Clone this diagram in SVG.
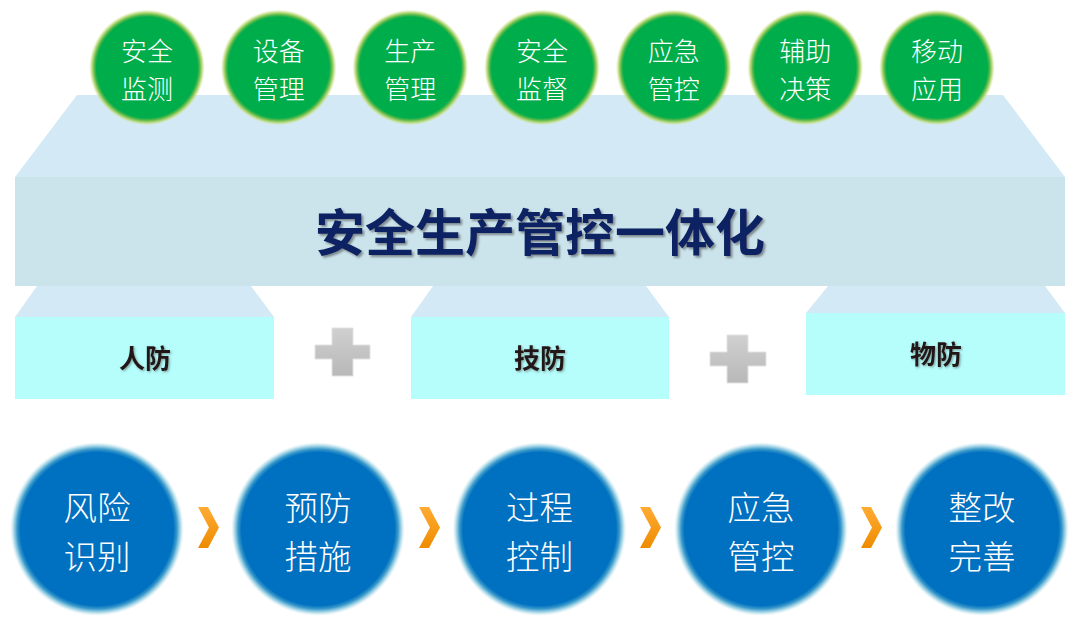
<svg xmlns="http://www.w3.org/2000/svg" width="1080" height="626" viewBox="0 0 1080 626">
<defs>
<radialGradient id="gGreen" cx="0.5" cy="0.5" r="0.5">
<stop offset="0" stop-color="#00ad4b"/>
<stop offset="0.87" stop-color="#00ad4b"/>
<stop offset="0.91" stop-color="#5ab94a"/>
<stop offset="0.95" stop-color="#b0d468" stop-opacity="0.85"/>
<stop offset="1" stop-color="#d8ecaa" stop-opacity="0"/>
</radialGradient>
<radialGradient id="gBlue" cx="0.5" cy="0.5" r="0.5">
<stop offset="0" stop-color="#0070c0"/>
<stop offset="0.88" stop-color="#0070c0"/>
<stop offset="0.92" stop-color="#3b9acb"/>
<stop offset="0.96" stop-color="#9fd3e5" stop-opacity="0.85"/>
<stop offset="1" stop-color="#d8eef5" stop-opacity="0"/>
</radialGradient>
<linearGradient id="gChev" x1="0" y1="0" x2="0" y2="1">
<stop offset="0" stop-color="#ffab33"/>
<stop offset="1" stop-color="#ee8c00"/>
</linearGradient>
<linearGradient id="gPlus" x1="0" y1="0" x2="0" y2="1">
<stop offset="0" stop-color="#d0d0d0"/>
<stop offset="1" stop-color="#b8b8b8"/>
</linearGradient>
<filter id="shadow" x="-10%" y="-20%" width="130%" height="150%">
<feDropShadow dx="2" dy="2" stdDeviation="1" flood-color="#404040" flood-opacity="0.55"/>
</filter>
<filter id="shadowS" x="-10%" y="-20%" width="130%" height="150%">
<feDropShadow dx="1.2" dy="1.2" stdDeviation="0.8" flood-color="#404040" flood-opacity="0.5"/>
</filter>
</defs>
<style>
.topface{fill:#d3eaf6}
.front{fill:#cbe4ec}
.box{fill:#b5fefc}
.title{font-family:"Noto Sans CJK SC","Noto Sans CJK JP",sans-serif;font-weight:bold;font-size:50px;fill:#0b2262;text-anchor:middle}
.lbl{font-family:"Noto Sans CJK SC","Noto Sans CJK JP",sans-serif;font-weight:bold;font-size:26px;fill:#231815;text-anchor:middle}
.gt{font-family:"Noto Sans CJK SC","Noto Sans CJK JP",sans-serif;font-weight:300;font-size:26px;fill:#ffffff;text-anchor:middle}
.bt{font-family:"Noto Sans CJK SC","Noto Sans CJK JP",sans-serif;font-weight:300;font-size:33.5px;fill:#ffffff;text-anchor:middle}
.plus{fill:url(#gPlus);stroke:#e2e2e2;stroke-width:1}
.chev{fill:url(#gChev)}
</style>
<rect width="1080" height="626" fill="#ffffff"/>

<g id="slab">
<polygon class="topface" points="77,95 1003,95 1065,177 15,177"/>
<rect class="front" x="15" y="177" width="1050" height="109"/>
<text class="title" x="540" y="251" filter="url(#shadow)">安全生产管控一体化</text>
</g>

<g id="renfang">
<polygon class="topface" points="37,286 251,286 274,317 15,317"/>
<rect class="box" x="15" y="317" width="259" height="82"/>
<text class="lbl" x="145" y="368" filter="url(#shadowS)">人防</text>
</g>
<g id="jifang">
<polygon class="topface" points="433,286 646,286 669,317 411,317"/>
<rect class="box" x="411" y="317" width="258" height="82"/>
<text class="lbl" x="540" y="368" filter="url(#shadowS)">技防</text>
</g>
<g id="wufang">
<polygon class="topface" points="828,286 1045,286 1065,313 806,313"/>
<rect class="box" x="806" y="313" width="259" height="82"/>
<text class="lbl" x="936" y="364" filter="url(#shadowS)">物防</text>
</g>

<g id="plus1">
<polygon class="plus" points="332,328 353,328 353,345 370,345 370,359 353,359 353,376 332,376 332,359 315,359 315,345 332,345"/>
</g>
<g id="plus2">
<polygon class="plus" points="727,335 748,335 748,352 766,352 766,366 748,366 748,383 727,383 727,366 710,366 710,352 727,352"/>
</g>

<g id="g1"><circle cx="147" cy="67.5" r="58" fill="url(#gGreen)"/><text class="gt" x="147" y="61">安全<tspan x="147" dy="38">监测</tspan></text></g>
<g id="g2"><circle cx="278.7" cy="67.5" r="58" fill="url(#gGreen)"/><text class="gt" x="278.7" y="61">设备<tspan x="278.7" dy="38">管理</tspan></text></g>
<g id="g3"><circle cx="410.3" cy="67.5" r="58" fill="url(#gGreen)"/><text class="gt" x="410.3" y="61">生产<tspan x="410.3" dy="38">管理</tspan></text></g>
<g id="g4"><circle cx="542" cy="67.5" r="58" fill="url(#gGreen)"/><text class="gt" x="542" y="61">安全<tspan x="542" dy="38">监督</tspan></text></g>
<g id="g5"><circle cx="673.7" cy="67.5" r="58" fill="url(#gGreen)"/><text class="gt" x="673.7" y="61">应急<tspan x="673.7" dy="38">管控</tspan></text></g>
<g id="g6"><circle cx="805.3" cy="67.5" r="58" fill="url(#gGreen)"/><text class="gt" x="805.3" y="61">辅助<tspan x="805.3" dy="38">决策</tspan></text></g>
<g id="g7"><circle cx="937" cy="67.5" r="58" fill="url(#gGreen)"/><text class="gt" x="937" y="61">移动<tspan x="937" dy="38">应用</tspan></text></g>

<g id="b1"><circle cx="97" cy="529" r="87" fill="url(#gBlue)"/><text class="bt" x="97" y="520">风险<tspan x="97" dy="49">识别</tspan></text></g>
<g id="b2"><circle cx="318" cy="529" r="87" fill="url(#gBlue)"/><text class="bt" x="318" y="520">预防<tspan x="318" dy="49">措施</tspan></text></g>
<g id="b3"><circle cx="539.5" cy="529" r="87" fill="url(#gBlue)"/><text class="bt" x="539.5" y="520">过程<tspan x="539.5" dy="49">控制</tspan></text></g>
<g id="b4"><circle cx="761" cy="529" r="87" fill="url(#gBlue)"/><text class="bt" x="761" y="520">应急<tspan x="761" dy="49">管控</tspan></text></g>
<g id="b5"><circle cx="982" cy="529" r="87" fill="url(#gBlue)"/><text class="bt" x="982" y="520">整改<tspan x="982" dy="49">完善</tspan></text></g>

<g id="connectors">
<polygon class="chev" points="198,507 208,507 219,527.5 208,548 198,548 209,527.5"/>
<polygon class="chev" points="419,507 429,507 440,527.5 429,548 419,548 430,527.5"/>
<polygon class="chev" points="640,507 650,507 661,527.5 650,548 640,548 651,527.5"/>
<polygon class="chev" points="861,507 871,507 882,527.5 871,548 861,548 872,527.5"/>
</g>
</svg>
